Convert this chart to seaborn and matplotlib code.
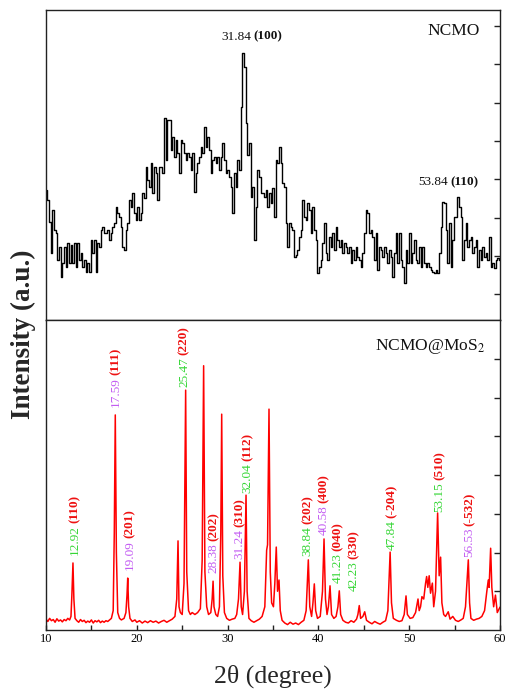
import numpy as np
import matplotlib
matplotlib.use("Agg")
import matplotlib.pyplot as plt
from matplotlib.ticker import MultipleLocator, FixedLocator
import seaborn as sns

# ---------------- data ----------------
# NCMO pattern (top panel), scan from 10.07 to 60 deg, intensities
ncmo_start, ncmo_stop = 10.07, 60.0
ncmo_counts = [
    430, 400, 335, 240, 370, 310, 300, 220, 260, 170, 210, 260, 200, 270, 210, 265,
    210, 270, 200, 270, 220, 240, 200, 220, 185, 210, 185, 280, 240, 280, 185, 270,
    260, 310, 320, 300, 300, 310, 280, 300, 320, 330, 380, 360, 350, 320, 260, 250,
    310, 330, 400, 380, 420, 360, 340, 380, 340, 360, 420, 405, 500, 460, 440, 510,
    420, 500, 480, 400, 500, 500, 480, 645, 520, 640, 640, 550, 590, 530, 580, 540,
    480, 580, 570, 540, 520, 540, 530, 490, 540, 425, 480, 510, 530, 560, 540, 620,
    560, 590, 550, 480, 520, 530, 510, 530, 490, 530, 570, 520, 480, 490, 470, 440,
    360, 480, 440, 520, 490, 680, 840, 800, 630, 535, 570, 410, 440, 280, 380, 490,
    470, 420, 420, 410, 430, 380, 420, 390, 435, 350, 520, 510, 560, 510, 450, 440,
    330, 260, 330, 320, 310, 230, 235, 250, 290, 310, 400, 350, 340, 390, 370, 300,
    380, 310, 280, 180, 200, 220, 270, 330, 240, 220, 290, 260, 300, 250, 320, 280,
    260, 280, 240, 270, 260, 240, 260, 210, 250, 220, 260, 230, 220, 200, 240, 300,
    370, 360, 300, 310, 290, 220, 300, 190, 260, 250, 230, 260, 240, 210, 250, 230,
    170, 240, 300, 210, 300, 220, 200, 150, 250, 210, 300, 210, 240, 280, 220, 210,
    260, 200, 260, 210, 200, 210, 200, 190, 185, 180, 190, 180, 240, 320, 395, 390,
    310, 210, 330, 200, 280, 350, 350, 410, 380, 350, 220, 280, 330, 260, 280, 290,
    240, 260, 280, 200, 250, 220, 260, 230, 240, 220, 290, 200, 210, 195, 220, 225,
    220,
]
ncmo_theta = np.linspace(ncmo_start, ncmo_stop, len(ncmo_counts))

# NCMO@MoS2 pattern (bottom panel)
mos2_theta = [
    10.0, 10.2, 10.4, 10.6, 10.8, 11.0, 11.2, 11.4, 11.6, 11.8, 12.0, 12.2, 12.4, 12.6,
    12.75, 12.85, 12.97, 13.07, 13.2, 13.4, 13.6, 13.8, 14.0, 14.2, 14.4, 14.6, 14.8,
    15.0, 15.2, 15.4, 15.6, 15.8, 16.0, 16.2, 16.4, 16.6, 16.8, 17.0, 17.2, 17.4, 17.52,
    17.63, 17.75, 17.9, 18.1, 18.3, 18.6, 18.8, 18.92, 19.0, 19.1, 19.25, 19.5, 19.8,
    20.0, 20.3, 20.6, 20.9, 21.2, 21.5, 21.8, 22.1, 22.4, 22.7, 23.0, 23.3, 23.6, 23.9,
    24.2, 24.4, 24.54, 24.65, 24.8, 25.0, 25.2, 25.38, 25.5, 25.7, 25.9, 26.1, 26.4,
    26.7, 27.0, 27.2, 27.36, 27.5, 27.7, 27.9, 28.15, 28.3, 28.4, 28.5, 28.7, 28.9,
    29.1, 29.25, 29.35, 29.47, 29.65, 29.9, 30.2, 30.5, 30.8, 31.0, 31.2, 31.37, 31.5,
    31.65, 31.85, 32.03, 32.15, 32.35, 32.6, 32.9, 33.2, 33.5, 33.8, 34.1, 34.3, 34.4,
    34.56, 34.7, 34.85, 35.05, 35.2, 35.36, 35.5, 35.66, 35.8, 36.0, 36.3, 36.6, 36.9,
    37.2, 37.5, 37.8, 38.1, 38.4, 38.65, 38.89, 39.05, 39.25, 39.4, 39.55, 39.7, 39.9,
    40.2, 40.45, 40.62, 40.78, 40.95, 41.1, 41.28, 41.45, 41.7, 41.95, 42.15, 42.3,
    42.45, 42.7, 43.0, 43.3, 43.6, 43.9, 44.2, 44.35, 44.5, 44.65, 44.9, 45.1, 45.3,
    45.6, 45.9, 46.2, 46.5, 46.8, 47.1, 47.4, 47.65, 47.9, 48.05, 48.25, 48.6, 48.9,
    49.2, 49.45, 49.65, 49.8, 50.1, 50.4, 50.7, 50.97, 51.1, 51.25, 51.4, 51.6, 51.8,
    51.92, 52.05, 52.2, 52.35, 52.55, 52.7, 52.9, 53.13, 53.3, 53.46, 53.6, 53.8, 54.0,
    54.3, 54.5, 54.8, 55.1, 55.4, 55.7, 55.95, 56.2, 56.35, 56.51, 56.65, 56.8, 57.1,
    57.4, 57.7, 58.0, 58.3, 58.55, 58.71, 58.8, 58.97, 59.1, 59.3, 59.5, 59.7, 60.0,
]
mos2_counts = [
    28, 22, 30, 24, 27, 20, 29, 23, 26, 21, 27, 24, 30, 26,
    35, 90, 173, 80, 30, 24, 20, 27, 22, 25, 19, 23, 20,
    26, 18, 24, 21, 25, 19, 23, 20, 24, 22, 26, 30, 50, 250,
    555, 200, 45, 30, 26, 30, 45, 90, 134, 60, 30, 22, 26,
    20, 24, 18, 23, 19, 24, 20, 23, 18, 22, 25, 20, 24, 28,
    35, 80, 230, 60, 45, 40, 120, 619, 150, 50, 40, 45, 40,
    45, 55, 180, 682, 150, 60, 40, 45, 80, 126, 60, 40, 35,
    60, 250, 557, 140, 45, 30, 25, 28, 30, 40, 80, 175, 60,
    40, 100, 348, 100, 30, 24, 20, 24, 28, 35, 60, 206, 220,
    570, 150, 70, 60, 120, 214, 100, 129, 50, 25, 18, 14, 20,
    15, 18, 14, 20, 25, 50, 181, 60, 35, 70, 119, 50, 30,
    35, 100, 235, 80, 40, 60, 114, 40, 30, 35, 60, 101,
    40, 25, 20, 18, 24, 20, 28, 40, 63, 30, 35, 47, 25,
    20, 16, 22, 18, 15, 20, 24, 50, 201, 70, 30, 25, 22,
    24, 40, 88, 40, 30, 32, 45, 80, 50, 60, 86, 80, 120,
    138, 110, 140, 95, 121, 60, 100, 302, 140, 188, 70, 40, 35,
    47, 28, 35, 25, 22, 26, 30, 60, 120, 181, 70, 30, 25,
    28, 30, 35, 50, 100, 129, 110, 211, 110, 60, 90, 45, 59,
]

# peak annotations (bottom panel)
label_theta = [13.16, 17.71, 19.25, 25.20, 28.43, 31.29, 32.21, 38.82, 40.54, 42.08, 43.84, 48.07, 53.32, 56.62]
label_base = [194, 575, 155, 627, 147, 183, 353, 191, 245, 121, 101, 206, 304, 188]
label_num = ["12.92", "17.59", "19.09", "25.47", "28.38", "31.24", "32.04",
             "38.84", "40.58", "41.23", "42.23", "47.84", "53.15", "56.53"]
label_phase = ["g", "v", "v", "g", "v", "v", "g", "g", "v", "g", "g", "g", "g", "v"]
label_hkl = ["(110)", "(111)", "(201)", "(220)", "(202)", "(310)", "(112)",
             "(202)", "(400)", "(040)", "(330)", "(-204)", "(510)", "(-532)"]

# top panel annotations
top_label_theta = [32.62, 54.27]
top_label_y = [890, 454]
top_label_num = ["31.84", "53.84"]
top_label_hkl = ["(100)", "(110)"]

# ---------------- style ----------------
sns.set_theme(style="ticks")
plt.rcParams["font.family"] = ["Liberation Serif", "DejaVu Serif"]
plt.rcParams["mathtext.fontset"] = "stix"

phase_colors = {"g": "#35d635", "v": "#c35cf2"}
hkl_color = "#ee1111"

fig = plt.figure(figsize=(5.07, 6.89), dpi=100)
W, H = 507, 689
left, right = 46 / W, 500 / W
ax1 = fig.add_axes([left, (H - 320) / H, right - left, 310 / H])
ax2 = fig.add_axes([left, (H - 630) / H, right - left, 310 / H], sharex=ax1)

sns.lineplot(x=ncmo_theta, y=ncmo_counts, ax=ax1, color="black", linewidth=1.0,
             estimator=None, sort=False, drawstyle="steps-mid")
sns.lineplot(x=mos2_theta, y=mos2_counts, ax=ax2, color="#ff0000", linewidth=1.1,
             estimator=None, sort=False)

for ax in (ax1, ax2):
    for sp in ax.spines.values():
        sp.set_visible(True)
        sp.set_color("#222222")
        sp.set_linewidth(1.0)
    ax.set_xlim(10, 60)
    ax.set_ylabel("")
    ax.set_xlabel("")

ax1.set_ylim(40, 970)
ax1.yaxis.set_major_locator(FixedLocator(np.arange(117, 960, 115.0)))
ax2.set_ylim(0, 800)
ax2.yaxis.set_major_locator(FixedLocator(np.arange(100, 800, 100)))

for ax in (ax1, ax2):
    ax.tick_params(axis="y", which="both", left=False, right=True, labelleft=False,
                   labelright=False, direction="in", length=4, width=1.0, color="#222222")
ax1.tick_params(axis="x", which="both", bottom=False, top=False, labelbottom=False)

ax2.xaxis.set_major_locator(MultipleLocator(10))
ax2.xaxis.set_minor_locator(MultipleLocator(5))
ax2.tick_params(axis="x", which="both", bottom=True, top=False, direction="in",
                length=3.5, width=1.0, color="#222222", labelsize=9, pad=2, labelcolor="black")

# annotations bottom
for th, yb, num, ph, hkl in zip(label_theta, label_base, label_num, label_phase, label_hkl):
    t = ax2.text(th, yb, num, rotation=90, ha="center", va="bottom",
                 color=phase_colors[ph], fontsize=9.5)
    ax2.annotate(hkl, xy=(0.5, 1), xycoords=t, xytext=(0, 1.5), textcoords="offset points",
                 rotation=90, ha="center", va="bottom", color=hkl_color,
                 fontsize=9.5, fontweight="bold")

# annotations top
for th, yv, num, hkl in zip(top_label_theta, top_label_y, top_label_num, top_label_hkl):
    t = ax1.text(th, yv, num, ha="right", va="center", color="#111111", fontsize=9.5)
    ax1.annotate(hkl, xy=(1, 0.5), xycoords=t, xytext=(1.5, 0), textcoords="offset points",
                 ha="left", va="center", color="#111111", fontsize=9.5, fontweight="bold")

ax1.text(0.956, 0.932, "NCMO", transform=ax1.transAxes, ha="right", va="center",
         fontsize=12.5, color="#111111")
ax2.text(0.967, 0.913, "NCMO@MoS$_2$", transform=ax2.transAxes, ha="right", va="center",
         fontsize=12.5, color="#111111")

ax2.set_xlabel("2\u03b8 (degree)", fontsize=18.5, va="center")
ax2.xaxis.set_label_coords(0.5, (630 - 676) / 310)

fig.text(23 / W, 1 - 334 / H, "Intensity (a.u.)", rotation=90, ha="center", va="center",
         fontsize=19.5, fontweight="bold")

fig.savefig("out.png", dpi=100)
